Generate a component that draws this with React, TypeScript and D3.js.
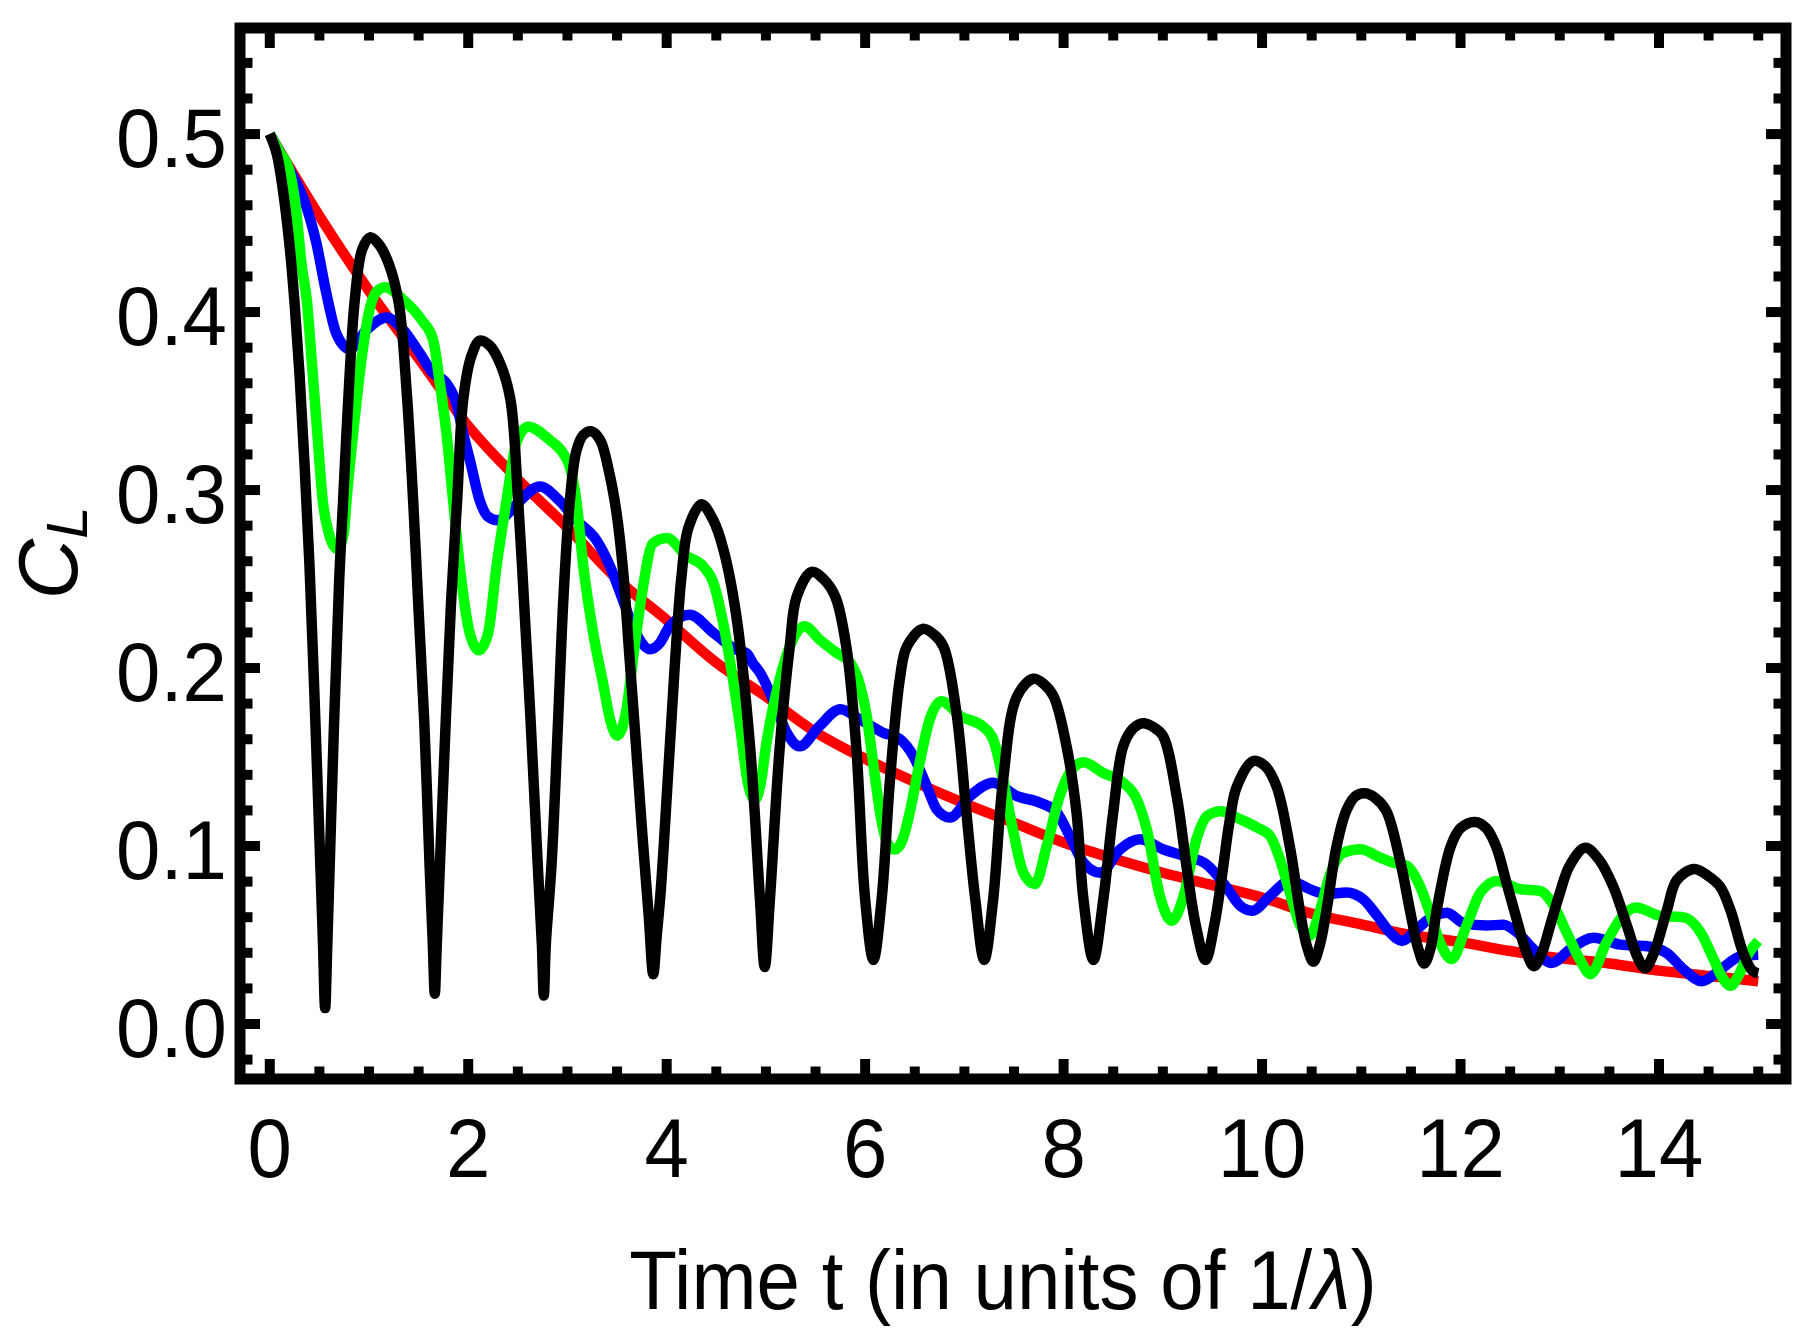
import React from 'react';
import * as d3 from 'd3';

const W = 1816;
const H = 1344;

const xMajorTicks = [0, 2, 4, 6, 8, 10, 12, 14];
const xTickLabels = ['0', '2', '4', '6', '8', '10', '12', '14'];
const yMajorTicks = [0, 0.1, 0.2, 0.3, 0.4, 0.5];
const yTickLabels = ['0.0', '0.1', '0.2', '0.3', '0.4', '0.5'];
const xMinorTicks = [0.5, 1, 1.5, 2.5, 3, 3.5, 4.5, 5, 5.5, 6.5, 7, 7.5, 8.5, 9, 9.5, 10.5, 11, 11.5, 12.5, 13, 13.5, 14.5, 15];
const yMinorTicks = [-0.02, 0.02, 0.04, 0.06, 0.08, 0.12, 0.14, 0.16, 0.18, 0.22, 0.24, 0.26, 0.28, 0.32, 0.34, 0.36, 0.38, 0.42, 0.44, 0.46, 0.48, 0.52, 0.54];

type P = [number, number];

const redData: P[] = [
  [0, 0.5], [0.5, 0.454], [1, 0.412], [1.5, 0.374], [2, 0.336], [2.5, 0.306], [3, 0.279], [3.5, 0.25],
  [4, 0.227], [4.5, 0.203], [5, 0.184], [5.5, 0.164], [6, 0.149], [6.5, 0.136], [7, 0.124], [7.5, 0.113],
  [8, 0.102], [8.5, 0.093], [9, 0.085], [9.5, 0.078], [10, 0.071], [10.5, 0.062], [11, 0.056], [11.5, 0.05],
  [12, 0.046], [12.5, 0.041], [13, 0.037], [13.5, 0.034], [14, 0.03], [14.5, 0.027], [15, 0.024],
];

const blueData: P[] = [
  [0, 0.5], [0.1, 0.49], [0.2, 0.48], [0.3, 0.469], [0.37, 0.459], [0.47, 0.4387], [0.57, 0.4106], [0.67, 0.388],
  [0.806, 0.3792], [0.975, 0.39], [1.176, 0.397], [1.344, 0.39], [1.51, 0.377], [1.646, 0.3657], [1.78, 0.36],
  [1.88, 0.3487], [1.949, 0.3318], [2.016, 0.317], [2.117, 0.294], [2.2, 0.285], [2.3, 0.283], [2.487, 0.292],
  [2.72, 0.302], [2.92, 0.294], [3.09, 0.283], [3.29, 0.272], [3.43, 0.257], [3.56, 0.238], [3.66, 0.2232],
  [3.75, 0.214], [3.83, 0.2105], [3.93, 0.214], [4.03, 0.2235], [4.23, 0.23], [4.47, 0.2198], [4.7, 0.2104],
  [4.805, 0.2083], [4.87, 0.2026], [4.94, 0.1974], [5.07, 0.1824], [5.21, 0.1637], [5.34, 0.156], [5.54, 0.1674],
  [5.75, 0.1768], [5.95, 0.171], [6.18, 0.1637], [6.35, 0.16], [6.485, 0.1506], [6.62, 0.1337], [6.72, 0.1207],
  [6.855, 0.116], [7.056, 0.128], [7.29, 0.1356], [7.53, 0.128], [7.76, 0.1244], [7.93, 0.119], [8.06, 0.1057],
  [8.2, 0.0907], [8.37, 0.085], [8.57, 0.0982], [8.77, 0.1038], [9.0, 0.0982], [9.21, 0.0945], [9.44, 0.0897],
  [9.64, 0.077], [9.78, 0.0664], [9.9, 0.0636], [10.08, 0.072], [10.28, 0.0804], [10.48, 0.0758], [10.65, 0.073],
  [10.85, 0.0739], [11.02, 0.0701], [11.16, 0.0608], [11.29, 0.0514], [11.41, 0.0467], [11.56, 0.0533],
  [11.73, 0.0608], [11.86, 0.0625], [12.03, 0.0568], [12.26, 0.0553], [12.43, 0.0558], [12.57, 0.0515],
  [12.735, 0.042], [12.92, 0.0343], [13.1, 0.0418], [13.34, 0.0484], [13.61, 0.0446], [13.88, 0.0437],
  [14.08, 0.0398], [14.25, 0.0306], [14.43, 0.024], [14.62, 0.0306], [14.82, 0.038], [15.0, 0.0389],
];

const greenData: P[] = [
  [0, 0.5], [0.1, 0.49], [0.2, 0.479], [0.26, 0.46], [0.323, 0.4255], [0.373, 0.4067], [0.428, 0.369],
  [0.479, 0.332], [0.534, 0.294], [0.595, 0.2757], [0.679, 0.267], [0.746, 0.2757], [0.773, 0.294],
  [0.84, 0.3318], [0.914, 0.369], [1.0, 0.4], [1.07, 0.411], [1.16, 0.414], [1.344, 0.407], [1.53, 0.3956],
  [1.646, 0.3844], [1.714, 0.36], [1.781, 0.3318], [1.848, 0.294], [1.915, 0.257], [2.016, 0.2195],
  [2.107, 0.21], [2.2, 0.2195], [2.285, 0.257], [2.386, 0.294], [2.487, 0.327], [2.604, 0.3356], [2.823, 0.328],
  [2.957, 0.3206], [3.024, 0.313], [3.09, 0.294], [3.16, 0.257], [3.26, 0.2195], [3.36, 0.191], [3.43, 0.171],
  [3.5, 0.162], [3.596, 0.177], [3.66, 0.205], [3.76, 0.245], [3.86, 0.27], [4.0, 0.273], [4.2, 0.263],
  [4.37, 0.257], [4.47, 0.248], [4.57, 0.225], [4.74, 0.167], [4.82, 0.135], [4.89, 0.126], [4.95, 0.136],
  [5.0, 0.156], [5.14, 0.194], [5.24, 0.212], [5.39, 0.2235], [5.54, 0.216], [5.71, 0.2086], [5.85, 0.203],
  [5.95, 0.19], [6.01, 0.175], [6.08, 0.147], [6.15, 0.119], [6.22, 0.102], [6.3, 0.098], [6.38, 0.104],
  [6.45, 0.119], [6.55, 0.147], [6.65, 0.171], [6.77, 0.1814], [6.96, 0.173], [7.19, 0.167], [7.29, 0.16],
  [7.39, 0.1375], [7.49, 0.109], [7.594, 0.085], [7.71, 0.0786], [7.83, 0.1], [7.96, 0.128], [8.06, 0.141],
  [8.2, 0.147], [8.4, 0.141], [8.6, 0.1356], [8.74, 0.126], [8.84, 0.109], [8.97, 0.072], [9.09, 0.058],
  [9.21, 0.072], [9.34, 0.104], [9.45, 0.117], [9.58, 0.1196], [9.78, 0.115], [9.95, 0.1104], [10.08, 0.1057],
  [10.18, 0.0926], [10.28, 0.0739], [10.38, 0.056], [10.48, 0.0496], [10.58, 0.063], [10.68, 0.0832],
  [10.82, 0.0963], [10.99, 0.0982], [11.19, 0.0935], [11.32, 0.0907], [11.46, 0.0888], [11.59, 0.0776],
  [11.69, 0.0627], [11.8, 0.045], [11.91, 0.0365], [12.06, 0.0552], [12.2, 0.0739], [12.37, 0.0804],
  [12.6, 0.0758], [12.8, 0.0748], [12.94, 0.0664], [13.07, 0.0514], [13.2, 0.0365], [13.31, 0.028],
  [13.47, 0.0458], [13.61, 0.059], [13.77, 0.0655], [14.01, 0.0608], [14.25, 0.0599], [14.42, 0.0514],
  [14.55, 0.0365], [14.64, 0.026], [14.72, 0.0215], [14.8, 0.027], [14.89, 0.0383], [15.0, 0.0467],
];

const blackData: P[] = [
  [0, 0.5], [0.07, 0.489], [0.134, 0.468], [0.2, 0.437], [0.25, 0.405], [0.3, 0.365], [0.35, 0.315],
  [0.4, 0.258], [0.45, 0.185], [0.5, 0.105], [0.535, 0.048], [0.558, 0.009], [0.58, 0.045], [0.649, 0.171],
  [0.7, 0.25], [0.739, 0.294], [0.8, 0.36], [0.857, 0.407], [0.93, 0.435], [1.01, 0.442], [1.1, 0.438],
  [1.2, 0.427], [1.3, 0.405], [1.38, 0.355], [1.445, 0.294], [1.5, 0.232], [1.556, 0.171], [1.61, 0.09],
  [1.643, 0.045], [1.663, 0.017], [1.683, 0.045], [1.774, 0.171], [1.83, 0.24], [1.888, 0.294], [1.949, 0.3506],
  [2.03, 0.375], [2.117, 0.384], [2.22, 0.381], [2.33, 0.37], [2.426, 0.3506], [2.503, 0.294], [2.58, 0.2195],
  [2.628, 0.171], [2.7, 0.09], [2.742, 0.045], [2.762, 0.016], [2.782, 0.045], [2.84, 0.09], [2.906, 0.171],
  [2.96, 0.24], [3.024, 0.294], [3.09, 0.322], [3.16, 0.331], [3.243, 0.333], [3.33, 0.328], [3.42, 0.31],
  [3.495, 0.287], [3.56, 0.255], [3.62, 0.21], [3.68, 0.165], [3.75, 0.11], [3.82, 0.06], [3.864, 0.028],
  [3.9, 0.05], [3.94, 0.075], [4.015, 0.141], [4.08, 0.2], [4.15, 0.252], [4.22, 0.279], [4.35, 0.292],
  [4.47, 0.283], [4.57, 0.267], [4.7, 0.23], [4.84, 0.156], [4.94, 0.07], [4.988, 0.032],
  [5.04, 0.07], [5.14, 0.156], [5.24, 0.212], [5.31, 0.24], [5.46, 0.254], [5.58, 0.25],
  [5.7, 0.24], [5.81, 0.212], [5.91, 0.156], [6.0, 0.07], [6.083, 0.036],
  [6.166, 0.07], [6.25, 0.137], [6.35, 0.194], [6.42, 0.212], [6.58, 0.222], [6.69, 0.219], [6.79, 0.212],
  [6.92, 0.175], [7.02, 0.119], [7.11, 0.07], [7.2, 0.036], [7.29, 0.07],
  [7.39, 0.137], [7.53, 0.184], [7.695, 0.194], [7.8, 0.191], [7.9, 0.184], [8.03, 0.156], [8.13, 0.119],
  [8.2, 0.07], [8.3, 0.036], [8.4, 0.07], [8.5, 0.119], [8.6, 0.156],
  [8.7, 0.166], [8.8, 0.169], [8.9, 0.167], [9.0, 0.162], [9.14, 0.128], [9.24, 0.088], [9.33, 0.056],
  [9.43, 0.036], [9.52, 0.056], [9.6, 0.085], [9.67, 0.113], [9.745, 0.1333], [9.912, 0.1478], [10.03, 0.145],
  [10.147, 0.1333], [10.28, 0.0996], [10.38, 0.064], [10.45, 0.044], [10.517, 0.035], [10.58, 0.044],
  [10.65, 0.064], [10.75, 0.0996], [10.85, 0.12], [10.94, 0.128], [11.04, 0.1296], [11.14, 0.127], [11.25, 0.12],
  [11.39, 0.092], [11.49, 0.064], [11.57, 0.043], [11.635, 0.034], [11.7, 0.043], [11.76, 0.064], [11.9, 0.0996],
  [12.0, 0.11], [12.145, 0.1135], [12.26, 0.11], [12.36, 0.0996], [12.46, 0.08], [12.56, 0.06], [12.66, 0.041],
  [12.74, 0.0325], [12.82, 0.04], [12.9, 0.0547], [13.0, 0.0734], [13.1, 0.089], [13.256, 0.099], [13.4, 0.092],
  [13.54, 0.0771], [13.68, 0.0547], [13.78, 0.038], [13.86, 0.0313], [13.95, 0.04], [14.08, 0.064],
  [14.18, 0.0809], [14.355, 0.0871], [14.5, 0.083], [14.617, 0.0771], [14.72, 0.064], [14.85, 0.0397],
  [14.94, 0.03], [15.0, 0.0285],
];

const seriesList: { data: P[]; color: string; curve: d3.CurveFactory }[] = [
  { data: redData, color: '#ff0000', curve: d3.curveMonotoneX },
  { data: blueData, color: '#0000ff', curve: d3.curveMonotoneX },
  { data: greenData, color: '#00ff00', curve: d3.curveMonotoneX },
  { data: blackData, color: '#000000', curve: d3.curveCatmullRom.alpha(0.5) },
];

const FONT = "'Liberation Sans', Arial, Helvetica, sans-serif";

export default function App() {
  const x = d3.scaleLinear().domain([-0.3, 15.28]).range([240, 1786]);
  const y = d3.scaleLinear().domain([-0.0309, 0.5596]).range([1079, 28]);
  const [x0, x1] = x.range();
  const [y0, y1] = y.range();

  const frameW = 11;
  const majorLen = 20;
  const minorLen = 12.5;
  const tickW = 10;

  const ticks: JSX.Element[] = [];
  const addX = (t: number, len: number, key: string) => {
    const px = x(t);
    ticks.push(<line key={key + 'b'} x1={px} x2={px} y1={y0} y2={y0 - len} stroke="#000" strokeWidth={tickW} />);
    ticks.push(<line key={key + 't'} x1={px} x2={px} y1={y1} y2={y1 + len} stroke="#000" strokeWidth={tickW} />);
  };
  const addY = (v: number, len: number, key: string) => {
    const py = y(v);
    ticks.push(<line key={key + 'l'} x1={x0} x2={x0 + len} y1={py} y2={py} stroke="#000" strokeWidth={tickW} />);
    ticks.push(<line key={key + 'r'} x1={x1} x2={x1 - len} y1={py} y2={py} stroke="#000" strokeWidth={tickW} />);
  };
  xMajorTicks.forEach((t, i) => addX(t, majorLen, 'xM' + i));
  xMinorTicks.forEach((t, i) => addX(t, minorLen, 'xm' + i));
  yMajorTicks.forEach((v, i) => addY(v, majorLen, 'yM' + i));
  yMinorTicks.forEach((v, i) => addY(v, minorLen, 'ym' + i));

  return (
    <svg
      width={W}
      height={H}
      viewBox={`0 0 ${W} ${H}`}
      style={{ position: 'absolute', left: 0, top: 0, background: '#fff' }}
      fontFamily={FONT}
    >
      <rect x={0} y={0} width={W} height={H} fill="#fff" />
      <g>
        {seriesList.map((s, i) => {
          const line = d3
            .line<P>()
            .x((d) => x(d[0]))
            .y((d) => y(d[1]))
            .curve(s.curve);
          return (
            <path
              key={i}
              d={line(s.data) || ''}
              fill="none"
              stroke={s.color}
              strokeWidth={10.5}
              strokeLinejoin="round"
              strokeLinecap="butt"
            />
          );
        })}
      </g>
      {ticks}
      <rect x={x0} y={y1} width={x1 - x0} height={y0 - y1} fill="none" stroke="#000" strokeWidth={frameW} />
      {yMajorTicks.map((v, i) => (
        <text
          key={'yl' + i}
          transform={`translate(227,${y(v) + 33}) scale(0.95,1)`}
          textAnchor="end"
          fontSize={84}
          fill="#000"
        >
          {yTickLabels[i]}
        </text>
      ))}
      {xMajorTicks.map((t, i) => (
        <text
          key={'xl' + i}
          transform={`translate(${x(t)},1177) scale(0.95,1)`}
          textAnchor="middle"
          fontSize={84}
          fill="#000"
        >
          {xTickLabels[i]}
        </text>
      ))}
      <text transform="translate(1003,1309) scale(0.93,1)" textAnchor="middle" fontSize={84} fill="#000">
        Time t (in units of 1/<tspan fontStyle="italic">λ</tspan>)
      </text>
      <text transform="translate(77,553) rotate(-90)" textAnchor="middle" fill="#000">
        <tspan fontStyle="italic" fontSize={84}>C</tspan>
        <tspan fontStyle="italic" fontSize={58} dy={10}>L</tspan>
      </text>
    </svg>
  );
}
